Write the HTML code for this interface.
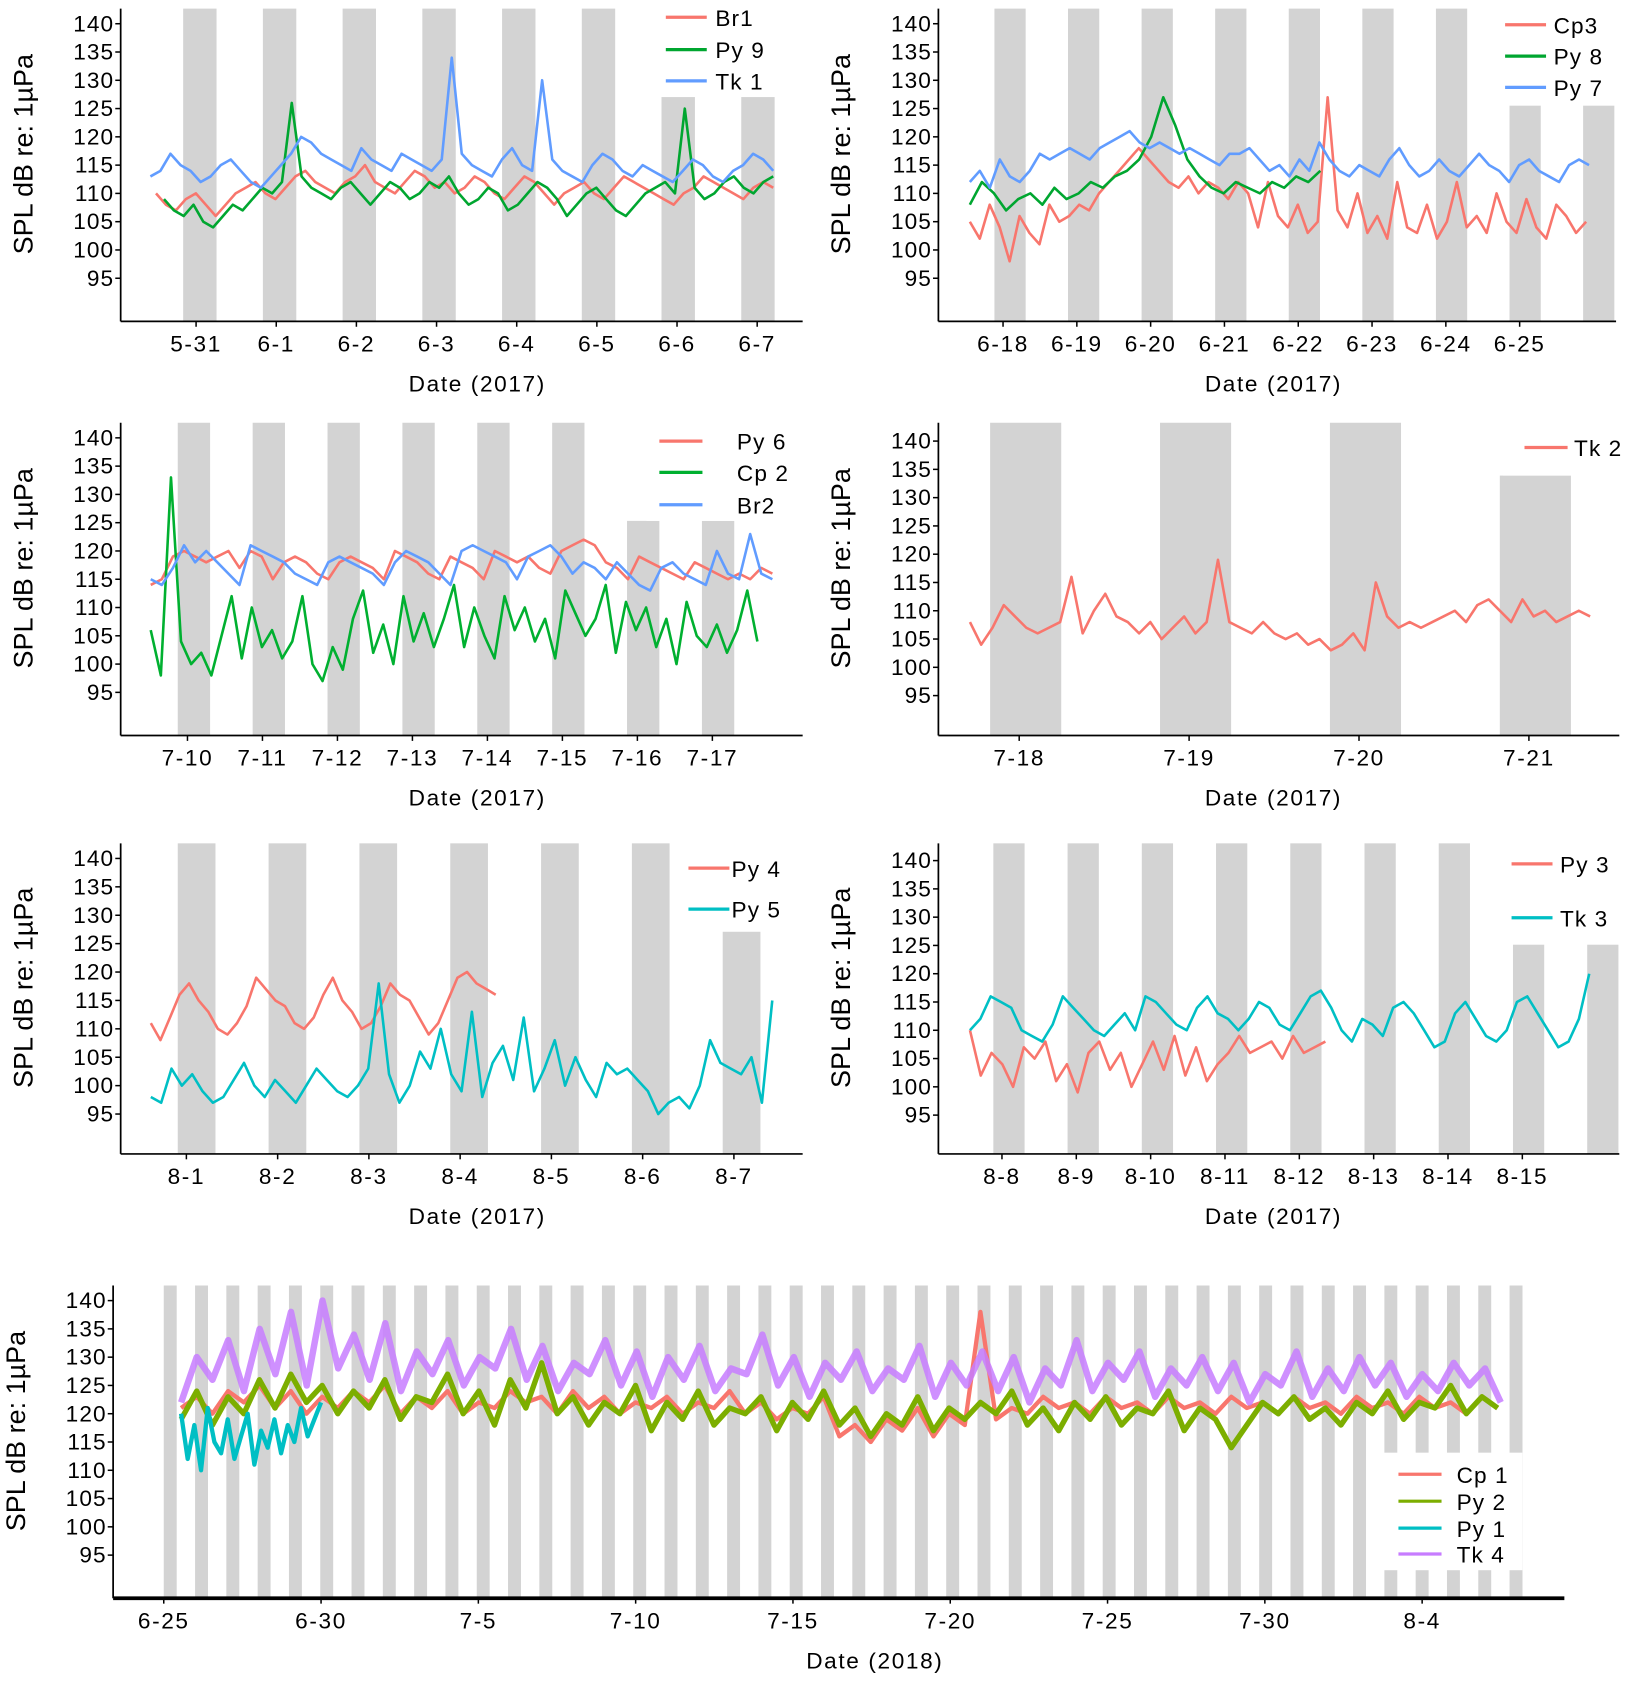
<!DOCTYPE html>
<html><head><meta charset="utf-8">
<style>
html,body{margin:0;padding:0;background:#fff;}
svg{display:block;font-family:"Liberation Sans",Arial,sans-serif;}
</style></head>
<body>
<svg id="chart" width="1629" height="1691" viewBox="0 0 1512 1568" preserveAspectRatio="none" xmlns="http://www.w3.org/2000/svg"></svg>
<script>
// ---------- DATA ----------
const yTicks = [95,100,105,110,115,120,125,130,135,140];
const ticksA = ["5-31","6-1","6-2","6-3","6-4","6-5","6-6","6-7"];
const ticksB = ["6-18","6-19","6-20","6-21","6-22","6-23","6-24","6-25"];
const ticksC = ["7-10","7-11","7-12","7-13","7-14","7-15","7-16","7-17"];
const ticksD = ["7-18","7-19","7-20","7-21"];
const ticksE = ["8-1","8-2","8-3","8-4","8-5","8-6","8-7"];
const ticksF = ["8-8","8-9","8-10","8-11","8-12","8-13","8-14","8-15"];
const ticksG = ["6-25","6-30","7-5","7-10","7-15","7-20","7-25","7-30","8-4"];

// Panel A (day 0 = 5-31)
const br1Days = [-0.5, 7.2];
const br1 = [110,108,107,109,110,108,106,108,110,111,112,110,109,111,113,114,112,111,110,112,113,115,112,111,110,112,114,113,111,112,110,111,113,112,110,109,111,113,112,110,108,110,111,112,110,109,111,113,112,111,110,109,108,110,111,113,112,111,110,109,111,112,111];
const py9Days = [-0.4, 7.2];
const py9 = [109,107,106,108,105,104,106,108,107,109,111,110,112,126,113,111,110,109,111,112,110,108,110,112,111,109,110,112,111,113,110,108,109,111,110,107,108,110,112,111,109,106,108,110,111,109,107,106,108,110,111,112,110,125,111,109,110,112,113,111,110,112,113];
const tk1Days = [-0.57, 7.2];
const tk1 = [113,114,117,115,114,112,113,115,116,114,112,111,113,115,117,120,119,117,116,115,114,118,116,115,114,117,116,115,114,116,134,117,115,114,113,116,118,115,114,130,116,114,113,112,115,117,116,114,113,115,114,113,112,114,116,115,113,112,114,115,117,116,114];

// Panel B (day 0 = 6-18)
const cp3Days = [-0.45, 7.9];
const cp3 = [105,102,108,104,98,106,103,101,108,105,106,108,107,110,112,114,116,118,116,114,112,111,113,110,112,111,109,112,110,104,112,106,104,108,103,105,127,107,104,110,103,106,102,112,104,103,108,102,105,112,104,106,103,110,105,103,109,104,102,108,106,103,105];
const py8Days = [-0.45, 4.3];
const py8 = [108,112,110,107,109,110,108,111,109,110,112,111,113,114,116,120,127,122,116,113,111,110,112,111,110,112,111,113,112,114];
const py7Days = [-0.45, 7.94];
const py7 = [112,114,111,116,113,112,114,117,116,117,118,117,116,118,119,120,121,119,118,119,118,117,118,117,116,115,117,117,118,116,114,115,113,116,114,119,116,114,113,115,114,113,116,118,115,113,114,116,114,113,115,117,115,114,112,115,116,114,113,112,115,116,115];

// Panel C (day 0 = 7-10)
const py6Days = [-0.49, 7.8];
const py6 = [114,115,119,120,119,118,119,120,117,120,119,115,118,119,118,116,115,118,119,118,117,115,120,119,118,116,115,119,118,117,115,120,119,118,119,117,116,120,121,122,121,118,117,115,119,118,117,116,115,118,117,116,115,116,115,117,116];
const cp2Days = [-0.49, 7.6];
const cp2 = [106,98,133,104,100,102,98,105,112,101,110,103,106,101,104,112,100,97,103,99,108,113,102,107,100,112,104,109,103,108,114,103,110,105,101,112,106,110,104,108,101,113,109,105,108,114,102,111,106,110,103,108,100,111,105,103,107,102,106,113,104];
const br2Days = [-0.49, 7.8];
const br2 = [115,114,117,121,118,120,118,116,114,121,120,119,118,116,115,114,118,119,118,117,116,114,118,120,119,118,116,114,120,121,120,119,118,115,119,120,121,119,116,118,117,115,118,116,114,113,117,118,116,115,114,120,116,115,123,116,115];

// Panel D (day 0 = 7-18)
const tk2Days = [-0.29, 3.36];
const tk2 = [108,104,107,111,109,107,106,107,108,116,106,110,113,109,108,106,108,105,107,109,106,108,119,108,107,106,108,106,105,106,104,105,103,104,106,103,115,109,107,108,107,108,109,110,108,111,112,110,108,112,109,110,108,109,110,109];

// Panel E (day 0 = 8-1)
const py4Days = [-0.39, 3.39];
const py4 = [111,108,112,116,118,115,113,110,109,111,114,119,117,115,114,111,110,112,116,119,115,113,110,111,114,118,116,115,112,109,111,115,119,120,118,117,116];
const py5Days = [-0.39, 6.42];
const py5 = [98,97,103,100,102,99,97,98,101,104,100,98,101,99,97,100,103,101,99,98,100,103,118,102,97,100,106,103,110,102,99,113,98,104,107,101,112,99,103,108,100,105,101,98,104,102,103,101,99,95,97,98,96,100,108,104,103,102,105,97,115];

// Panel F (day 0 = 8-8)
const py3Days = [-0.43, 4.35];
const py3 = [110,102,106,104,100,107,105,108,101,104,99,106,108,103,106,100,104,108,103,109,102,107,101,104,106,109,106,107,108,105,109,106,107,108];
const tk3Days = [-0.43, 7.9];
const tk3 = [110,112,116,115,114,110,109,108,111,116,114,112,110,109,111,113,110,116,115,113,111,110,114,116,113,112,110,112,115,114,111,110,113,116,117,114,110,108,112,111,109,114,115,113,110,107,108,113,115,112,109,108,110,115,116,113,110,107,108,112,120];

// Panel G (day 0 = 6-25)
const cp1Days = [0.55, 42.4];
const cp1 = [121,123,120,124,122,125,121,124,120,123,121,124,122,125,120,123,121,124,120,122,121,124,122,123,120,124,121,123,120,122,121,123,120,122,121,124,120,122,119,121,120,123,116,118,115,119,117,121,116,120,118,138,119,121,120,123,121,122,120,123,121,122,120,123,121,122,120,123,121,122,120,123,121,122,120,123,121,122,120,123,121,122,120,123,121];
const py2Days = [0.55, 42.4];
const py2 = [119,124,118,123,120,126,121,127,122,125,120,124,121,126,119,123,122,127,120,124,118,126,121,129,120,123,118,122,120,125,117,122,119,124,118,121,120,123,117,122,119,124,118,121,116,120,118,123,117,121,119,122,120,124,118,121,117,122,119,123,118,121,120,124,117,121,119,114,118,122,120,123,119,121,118,122,120,124,119,122,121,125,120,123,121];
const py1Days = [0.55, 5.0];
const py1 = [120,112,118,110,121,115,113,119,112,116,120,111,117,114,119,113,118,115,121,116,119,122];
const tk4Days = [0.55, 42.5];
const tk4 = [122,130,126,133,124,135,127,138,125,140,128,134,126,136,124,131,127,133,125,130,128,135,126,132,124,129,127,133,125,131,123,130,126,132,124,128,127,134,125,130,123,129,126,131,124,128,126,132,123,129,125,131,124,130,122,128,125,133,124,129,126,131,123,128,125,130,124,129,122,127,125,131,123,128,124,130,125,129,123,127,124,129,125,128,122];

// ---------- RENDER ----------
const NS = "http://www.w3.org/2000/svg";
const svg = document.getElementById('chart');
const C = {red:"#F8766D", green:"#00BA38", blue:"#619CFF", teal:"#00BFC4", olive:"#7CAE00", purple:"#C77CFF"};

function mk(tag, attrs, parent){
  const e = document.createElementNS(NS, tag);
  for (const k in attrs) e.setAttribute(k, attrs[k]);
  (parent||svg).appendChild(e);
  return e;
}

function panel(cfg){
  const g = mk('g', {});
  
  
  const ys = v => cfg.y140 + (140 - v) * (cfg.y95 - cfg.y140) / 45;
  const xs = d => cfg.ox + d * cfg.ppd;
  for (let k = 0; k < cfg.nBars; k++){
    const bx = cfg.b0 + k * cfg.period;
    const top = (cfg.shortFrom !== undefined && k >= cfg.shortFrom) ? cfg.shortTop : cfg.top;
    const r = mk('rect', {x:bx, y:top, width:cfg.bw, height:cfg.axisY - top, fill:"#d3d3d3"}, g);
    
    
  }
  cfg.series.forEach(s => {
    const n = s.vals.length;
    const pts = s.vals.map((v,i) => {
      const d = s.days[0] + (s.days[1] - s.days[0]) * i / (n - 1);
      return xs(d).toFixed(1) + "," + ys(v).toFixed(1);
    }).join(" ");
    const pl = mk('polyline', {points:pts, fill:"none", stroke:s.color, "stroke-width":s.w || cfg.sw || 2.4, "stroke-opacity":s.op || 1, "stroke-linejoin":"round"}, g);
    
    
  });
  if (cfg.legBox){
    const b = mk('rect', {x:cfg.legBox[0], y:cfg.legBox[1], width:cfg.legBox[2], height:cfg.legBox[3], fill:"#fff"}, g);
    
    
  }
  const ya = mk('line', {x1:cfg.x0, y1:cfg.top, x2:cfg.x0, y2:cfg.axisY, stroke:"#000", "stroke-width":1.6}, g);
  
  
  const xa = mk('line', {x1:cfg.x0, y1:cfg.axisY, x2:cfg.xEnd, y2:cfg.axisY, stroke:"#000", "stroke-width":cfg.xaw || 1.6}, g);
  
  
  yTicks.forEach(v => {
    mk('line', {x1:cfg.x0 - 5, y1:ys(v), x2:cfg.x0, y2:ys(v), stroke:"#000", "stroke-width":1.4}, g);
    const t = mk('text', {x:cfg.x0 - 6, y:ys(v) + 7, "text-anchor":"end", "font-size":21, "letter-spacing":1}, g);
    t.textContent = v;
    
    
  });
  cfg.ticks.forEach((lab, i) => {
    const x = xs(i * cfg.tickEvery);
    mk('line', {x1:x, y1:cfg.axisY, x2:x, y2:cfg.axisY + 5, stroke:"#000", "stroke-width":1.4}, g);
    const t = mk('text', {x:x, y:cfg.axisY + 28, "text-anchor":"middle", "font-size":21, "letter-spacing":1.5}, g);
    t.textContent = lab;
    
    
  });
  const xt = mk('text', {x:cfg.xTitleX, y:cfg.axisY + 65, "text-anchor":"middle", "font-size":21, "letter-spacing":1.5}, g);
  xt.textContent = cfg.xTitle;
  
  
  const yc = (cfg.top + cfg.axisY) / 2 - 10;
  const yt = mk('text', {x:0, y:0, transform:`translate(${cfg.x0 - 82},${yc}) rotate(-90)`, "text-anchor":"middle", "font-size":25}, g);
  yt.textContent = "SPL dB re: 1µPa";
  
  
  cfg.series.forEach((s, i) => {
    const ly = cfg.legY[i];
    const ln = mk('line', {x1:cfg.legX, y1:ly, x2:cfg.legX + cfg.legLen, y2:ly, stroke:s.color, "stroke-width":3}, g);
    
    
    const t = mk('text', {x:cfg.legTx, y:ly + 8, "font-size":21, "letter-spacing":1}, g);
    t.textContent = s.label;
    
    
  });
}

panel({name:"panel-a", x0:112, xEnd:745, top:8, axisY:298, y140:22, y95:258, ox:182, ppd:74.4,
  b0:170, period:74, bw:31, nBars:8, shortFrom:6, shortTop:90,
  ticks:ticksA, tickEvery:1, xTitle:"Date (2017)", xTitleX:443,
  series:[{label:"Br1",color:C.red,vals:br1,days:br1Days},{label:"Py 9",color:"#00A630",vals:py9,days:py9Days},{label:"Tk 1",color:C.blue,vals:tk1,days:tk1Days}],
  legX:618, legLen:38, legTx:664, legY:[16,46,75]});

panel({name:"panel-b", x0:871, xEnd:1500, top:8, axisY:298, y140:22, y95:258, ox:931, ppd:68.5,
  b0:923, period:68.3, bw:29, nBars:9, shortFrom:7, shortTop:98,
  ticks:ticksB, tickEvery:1, xTitle:"Date (2017)", xTitleX:1182,
  series:[{label:"Cp3",color:C.red,vals:cp3,days:cp3Days},{label:"Py 8",color:"#00A630",vals:py8,days:py8Days},{label:"Py 7",color:C.blue,vals:py7,days:py7Days}],
  legX:1397, legLen:38, legTx:1442, legY:[23,52,81]});

panel({name:"panel-c", x0:112, xEnd:745, top:392, axisY:682, y140:406, y95:642, ox:174, ppd:69.6,
  b0:165, period:69.5, bw:30, nBars:8, shortFrom:6, shortTop:483,
  ticks:ticksC, tickEvery:1, xTitle:"Date (2017)", xTitleX:443, legBox:[600,392,120,91],
  series:[{label:"Py 6",color:C.red,vals:py6,days:py6Days},{label:"Cp 2",color:"#00B030",vals:cp2,days:cp2Days},{label:"Br2",color:C.blue,vals:br2,days:br2Days}],
  legX:612, legLen:40, legTx:684, legY:[409,438,468]});

panel({name:"panel-d", x0:871, xEnd:1503, top:392, axisY:682, y140:409, y95:645, ox:946, ppd:157.7,
  b0:919, period:157.7, bw:66, nBars:4, shortFrom:3, shortTop:441,
  ticks:ticksD, tickEvery:1, xTitle:"Date (2017)", xTitleX:1182, legBox:[1395,392,108,49],
  series:[{label:"Tk 2",color:C.red,vals:tk2,days:tk2Days}],
  legX:1415, legLen:40, legTx:1461, legY:[415]});

panel({name:"panel-e", x0:112, xEnd:745, top:782, axisY:1070, y140:796, y95:1033, ox:173, ppd:84.7,
  b0:165, period:84.3, bw:35, nBars:7, shortFrom:6, shortTop:864,
  ticks:ticksE, tickEvery:1, xTitle:"Date (2017)", xTitleX:443,
  series:[{label:"Py 4",color:C.red,vals:py4,days:py4Days},{label:"Py 5",color:C.teal,vals:py5,days:py5Days}],
  legX:639, legLen:38, legTx:679, legY:[805,843]});

panel({name:"panel-f", x0:871, xEnd:1503, top:782, axisY:1070, y140:798, y95:1034, ox:930, ppd:69,
  b0:922, period:68.9, bw:29, nBars:9, shortFrom:7, shortTop:876,
  ticks:ticksF, tickEvery:1, xTitle:"Date (2017)", xTitleX:1182,
  series:[{label:"Py 3",color:C.red,vals:py3,days:py3Days},{label:"Tk 3",color:C.teal,vals:tk3,days:tk3Days}],
  legX:1403, legLen:38, legTx:1448, legY:[801,851]});

panel({name:"panel-g", x0:105, xEnd:1452, top:1192, axisY:1482, y140:1206, y95:1442, ox:152, ppd:29.2, xaw:3.5,
  b0:152, period:29.05, bw:12, nBars:44, sw:3,
  ticks:ticksG, tickEvery:5, xTitle:"Date (2018)", xTitleX:812, legBox:[1283,1347,130,109],
  series:[{label:"Cp 1",color:C.red,vals:cp1,days:cp1Days,w:4},{label:"Py 2",color:C.olive,vals:py2,days:py2Days,w:5},{label:"Py 1",color:C.teal,vals:py1,days:py1Days,w:4},{label:"Tk 4",color:C.purple,vals:tk4,days:tk4Days,w:6,op:0.85}],
  legX:1298, legLen:40, legTx:1352, legY:[1367,1392,1417,1441]});
</script>
</body></html>
